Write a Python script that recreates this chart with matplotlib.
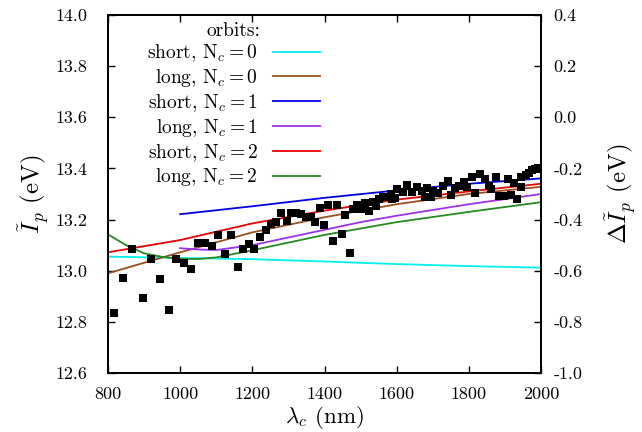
import matplotlib
matplotlib.use("Agg")
import matplotlib.pyplot as plt
import numpy as np

plt.rcParams['font.family'] = 'serif'
plt.rcParams['font.serif'] = ['cmr10', 'DejaVu Serif']
plt.rcParams['mathtext.fontset'] = 'cm'
plt.rcParams['axes.unicode_minus'] = False
plt.rcParams['axes.formatter.use_mathtext'] = True

# scatter data (wavelength nm, Ip eV)
pts_x = [817, 841, 866, 896, 918, 944, 968, 988, 1011, 1030, 1049, 1069, 1087,
         1104, 1124, 1141, 1160, 1173, 1191, 1205, 1221, 1237, 1251, 1266, 1280,
         1295, 1307, 1321, 1335, 1349, 1362, 1374, 1388, 1399, 1411, 1424, 1435,
         1449, 1457, 1470, 1478, 1489, 1501, 1512, 1523, 1534, 1543, 1551, 1563,
         1574, 1584, 1586, 1594, 1602, 1617, 1629, 1643, 1657, 1671, 1678, 1685,
         1694, 1702, 1715, 1728, 1743, 1751, 1762, 1774, 1787, 1794, 1808, 1817,
         1831, 1845, 1856, 1861, 1874, 1883, 1898, 1909, 1916, 1925, 1933, 1945,
         1945, 1958, 1968, 1974, 1982, 1988, 1993]
pts_y = [12.836, 12.973, 13.085, 12.894, 13.046, 12.969, 12.848, 13.046, 13.031,
         13.008, 13.107, 13.110, 13.097, 13.141, 13.067, 13.141, 13.016, 13.084,
         13.103, 13.086, 13.133, 13.159, 13.181, 13.189, 13.227, 13.196, 13.225,
         13.227, 13.222, 13.209, 13.211, 13.191, 13.246, 13.180, 13.258, 13.117,
         13.258, 13.145, 13.219, 13.070, 13.243, 13.258, 13.243, 13.264, 13.235,
         13.270, 13.254, 13.279, 13.290, 13.287, 13.300, 13.280, 13.286, 13.321,
         13.309, 13.335, 13.309, 13.326, 13.313, 13.287, 13.322, 13.287, 13.313,
         13.303, 13.331, 13.352, 13.296, 13.322, 13.331, 13.346, 13.329, 13.365,
         13.305, 13.379, 13.359, 13.332, 13.318, 13.365, 13.293, 13.292, 13.359,
         13.296, 13.344, 13.279, 13.329, 13.365, 13.374, 13.383, 13.394, 13.397,
         13.397, 13.400]

# model curves
short0_x = [800, 1000, 1200, 1400, 1600, 1800, 2000]
short0_y = [13.055, 13.050, 13.045, 13.036, 13.026, 13.018, 13.012]
long0_x = [800, 1000, 1200, 1400, 1600, 1800, 2000]
long0_y = [12.990, 13.072, 13.150, 13.209, 13.260, 13.300, 13.328]
short1_x = [1000, 1200, 1400, 1600, 1800, 2000]
short1_y = [13.221, 13.252, 13.285, 13.314, 13.340, 13.361]
long1_x = [1000, 1050, 1100, 1200, 1300, 1400, 1500, 1600, 1800, 2000]
long1_y = [13.088, 13.083, 13.081, 13.100, 13.130, 13.160, 13.190, 13.215, 13.260, 13.300]
short2_x = [800, 1000, 1200, 1400, 1600, 1800, 2000]
short2_y = [13.072, 13.120, 13.185, 13.235, 13.278, 13.310, 13.340]
long2_x = [800, 850, 900, 950, 1000, 1050, 1100, 1200, 1300, 1400, 1500, 1600, 1800, 2000]
long2_y = [13.142, 13.100, 13.068, 13.054, 13.046, 13.046, 13.052, 13.080, 13.110,
           13.140, 13.165, 13.190, 13.230, 13.268]

xticks = [800, 1000, 1200, 1400, 1600, 1800, 2000]
yticks = [12.6, 12.8, 13.0, 13.2, 13.4, 13.6, 13.8, 14.0]
y2ticks = [-1.0, -0.8, -0.6, -0.4, -0.2, 0.0, 0.2, 0.4]

fig = plt.figure(figsize=(6.42, 4.32), dpi=100)
ax = fig.add_axes([108/642, 59/432, 433/642, 358/432])

lw = 1.3
series = [
    (short0_x, short0_y, '#00f0f0', r'short, N$_c = 0$'),
    (long0_x, long0_y, '#9b4f1d', r'long, N$_c = 0$'),
    (short1_x, short1_y, '#0000ee', r'short, N$_c = 1$'),
    (long1_x, long1_y, '#a030f0', r'long, N$_c = 1$'),
    (short2_x, short2_y, '#ee0000', r'short, N$_c = 2$'),
    (long2_x, long2_y, '#228b22', r'long, N$_c = 2$'),
]
for x, y, c, lab in series:
    ax.plot(x, y, color=c, lw=lw, label=lab)

ax.scatter(pts_x, pts_y, marker='s', s=28, color='black', zorder=5, linewidths=0)

ax.set_xlim(800, 2000)
ax.set_ylim(12.6, 14.0)
ax.set_xticks(xticks)
ax.set_xticklabels([str(v) for v in xticks])
ax.set_yticks(yticks)
ax.set_yticklabels(['%.1f' % v for v in yticks])
ax.tick_params(axis='y', direction='in', length=5, width=1, labelsize=13,
               right=False, pad=15)
ax.tick_params(axis='x', direction='in', length=5, width=1, labelsize=13,
               top=True, pad=10)
ax.set_xlabel(r'$\lambda_c$ (nm)', fontsize=16.5, labelpad=1)
ax.set_ylabel(r'$\tilde{I}_p$ (eV)', fontsize=18, labelpad=3)

ax2 = ax.twinx()
ax2.set_ylim(-1.0, 0.4)
ax2.set_yticks(y2ticks)
ax2.set_yticklabels(['%.1f' % v for v in y2ticks])
ax2.tick_params(direction='in', length=5, width=1, labelsize=13, pad=9)
ax2.set_ylabel(r'$\Delta\tilde{I}_p$ (eV)', fontsize=18, rotation=90, labelpad=15)

for a in (ax, ax2):
    for s in a.spines.values():
        s.set_linewidth(1.3)

h, l = ax.get_legend_handles_labels()
leg = ax.legend(h, l, title='orbits:', loc='upper right', frameon=False,
                markerfirst=False, fontsize=14, title_fontsize=14,
                handlelength=2.45, handletextpad=0.75, labelspacing=0.15,
                borderpad=0.0, bbox_to_anchor=(330/642, 1 - 12/432),
                bbox_transform=fig.transFigure)

fig.savefig('out.png', dpi=100)
